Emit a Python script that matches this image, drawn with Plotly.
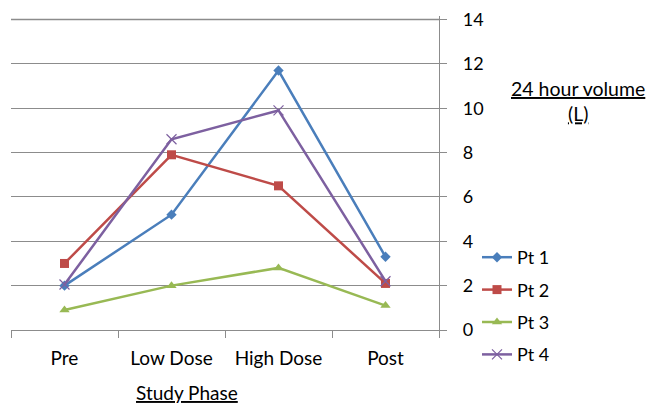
import plotly.graph_objects as go

phases = ["Pre", "Low Dose", "High Dose", "Post"]
pt1 = [2.0, 5.2, 11.7, 3.3]
pt2 = [3.0, 7.9, 6.5, 2.1]
pt3 = [0.9, 2.0, 2.8, 1.1]
pt4 = [2.05, 8.6, 9.9, 2.2]
series_names = ["Pt 1", "Pt 2", "Pt 3", "Pt 4"]
y_ticks = [0, 2, 4, 6, 8, 10, 12, 14]

colors = ["#4A7EBB", "#BE4B48", "#98B954", "#7D60A0"]
symbols = ["diamond", "square", "triangle-up", "x-thin"]
sizes = [8, 9, 9, 10]

FONT = "Lato"
fig = go.Figure()
for i, (name, vals) in enumerate(zip(series_names, [pt1, pt2, pt3, pt4])):
    mk = dict(symbol=symbols[i], size=sizes[i], color=colors[i])
    if symbols[i] == "x-thin":
        mk["line"] = dict(color=colors[i], width=1.2)
    fig.add_trace(go.Scatter(
        x=phases, y=vals, name=name, mode="lines+markers",
        line=dict(color=colors[i], width=2.5), marker=mk,
        legendgroup=name,
    ))

W, H = 666, 405
L, R, T, B = 11, 439, 16, 330
pw, ph = R - L, B - T
y_top = 14 + (19.5 - T) / ((B - 19.5) / 14)

def px_x(x):
    return (x - L) / pw

def px_y(y):
    return (B - y) / ph

grey = "#8C8C8C"
fig.update_layout(
    width=W, height=H,
    margin=dict(l=L, r=W - R, t=T, b=H - B, autoexpand=False),
    plot_bgcolor="rgba(0,0,0,0)", paper_bgcolor="white",
    font=dict(family=FONT, size=18, color="#000000"),
    showlegend=True,
    legend=dict(x=px_x(477), xanchor="left", y=px_y(239), yanchor="top",
                font=dict(size=18), tracegroupgap=6,
                traceorder="grouped", itemwidth=30, bgcolor="rgba(0,0,0,0)"),
    xaxis=dict(type="category", range=[-0.5, 3.5], showgrid=False,
               showline=True, linecolor=grey, linewidth=1.3,
               ticks="outside", tickson="boundaries", ticklen=7, tickcolor=grey,
               tickwidth=1.3, ticklabelstandoff=11, zeroline=False,
               tickfont=dict(size=19)),
    yaxis=dict(range=[0, y_top], side="right", tickvals=y_ticks,
               showgrid=True, gridcolor=grey, gridwidth=1.3,
               showline=True, linecolor=grey, linewidth=1.3,
               ticks="outside", ticklen=7, tickcolor=grey, tickwidth=1.3,
               ticklabelstandoff=12, zeroline=False),
    shapes=[dict(type="line", xref="paper", x0=0, x1=1, yref="y",
                 y0=y_ticks[-1], y1=y_ticks[-1], line=dict(color=grey, width=1.5),
                 layer="above")],
    annotations=[
        dict(text="<u>24 hour volume</u><br><u>(L)</u>", x=px_x(578), y=px_y(101),
             xref="paper", yref="paper", xanchor="center", yanchor="middle",
             showarrow=False, font=dict(size=19.5, family=FONT), align="center"),
        dict(text="<u>Study Phase</u>", x=px_x(187), y=px_y(392),
             xref="paper", yref="paper", xanchor="center", yanchor="middle",
             showarrow=False, font=dict(size=19, family=FONT)),
    ],
)

fig.write_html("out.html", config={"displayModeBar": False},
               post_script="document.body.style.margin='0';document.body.style.overflow='hidden';")
